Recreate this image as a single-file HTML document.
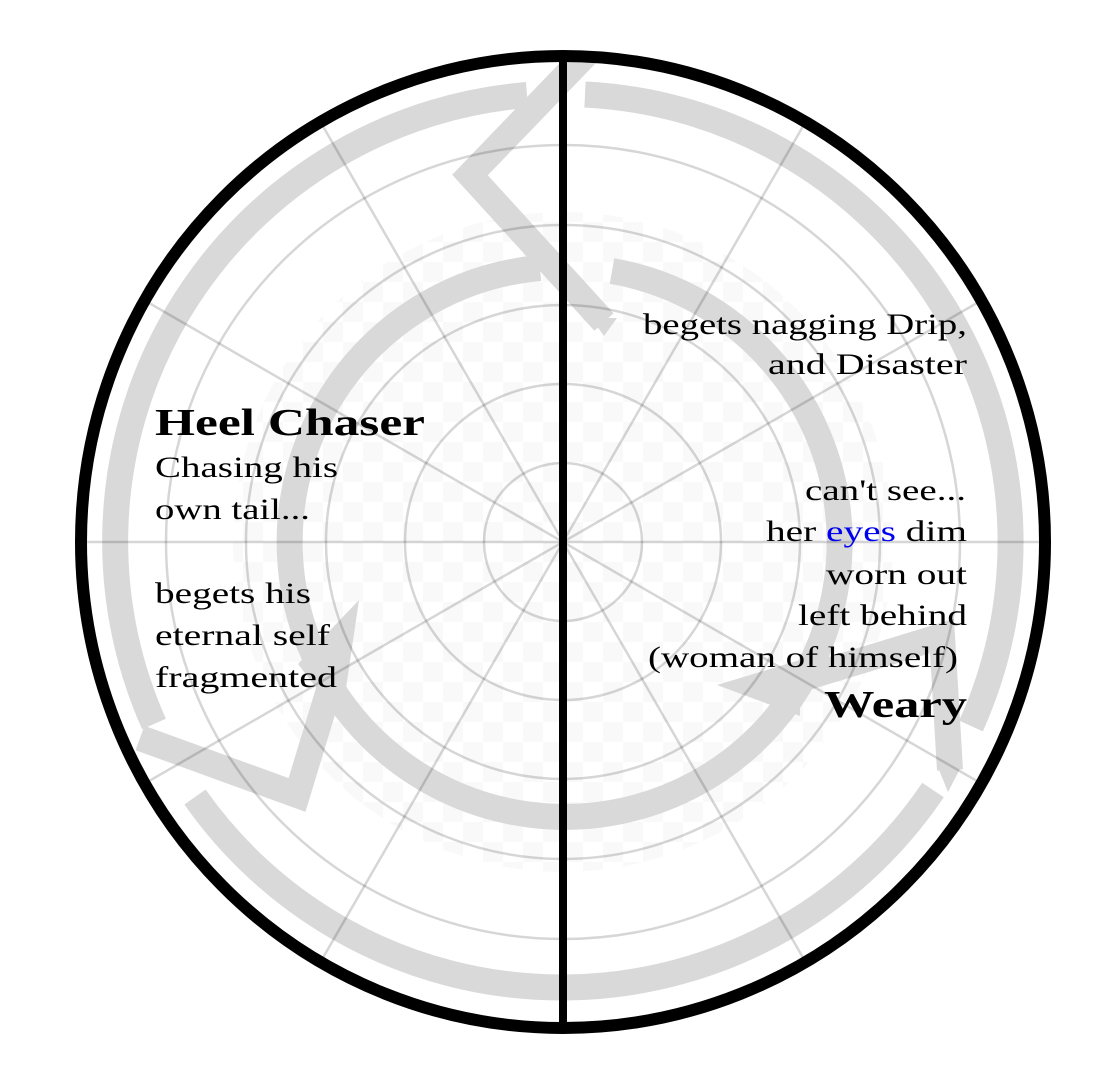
<!DOCTYPE html>
<html><head><meta charset="utf-8"><style>
html,body{margin:0;padding:0;background:#fff;}
svg{display:block;}
text{font-family:"Liberation Serif","DejaVu Serif",serif;fill:#000;}
</style></head><body>
<svg width="1110" height="1081" viewBox="0 0 1110 1081" xmlns="http://www.w3.org/2000/svg">
<defs>
<clipPath id="disk"><ellipse cx="563" cy="542" rx="478" ry="482"/></clipPath>
<pattern id="chk" width="40" height="40" patternUnits="userSpaceOnUse" x="3" y="2">
<rect x="0" y="0" width="20" height="20" fill="#f9f9f9"/><rect x="20" y="20" width="20" height="20" fill="#f9f9f9"/>
</pattern>
</defs>
<g clip-path="url(#disk)">
<circle cx="563" cy="542" r="330" fill="url(#chk)"/>
<g fill="none" stroke="#d9d9d9" stroke-width="26" stroke-linejoin="miter" stroke-miterlimit="10">
<path d="M585 94.5 A448 448 0 0 1 971 726"/>
<path d="M933 790 A448 448 0 0 1 195 797"/>
<path d="M154 724 A448 448 0 0 1 527 95"/>
<path d="M612 271 A275 275 0 1 1 540 268"/>
<polyline points="600,40 470,175 604,322"/>
<polyline points="140,738 297,795 332,680"/>
<polyline points="765,690 942,636 950,770"/>
</g>
<g fill="#d9d9d9">
<polygon points="591,318 617,318 604,336"/>
<polygon points="298,664 359,600 345,695 318,690"/>
<polygon points="717,685 800,660 800,716"/>
<polygon points="937,765 962,765 948,792"/>
</g>
<g stroke="rgba(0,0,0,0.16)" stroke-width="2.5" fill="none">
<circle cx="563" cy="542" r="79"/>
<circle cx="563" cy="542" r="158"/>
<circle cx="563" cy="542" r="237"/>
<circle cx="563" cy="542" r="317"/>
<circle cx="563" cy="542" r="397"/>
<line x1="63" y1="542" x2="1063" y2="542"/>
<line x1="130" y1="292" x2="996" y2="792"/>
<line x1="313" y1="109" x2="813" y2="975"/>
<line x1="813" y1="109" x2="313" y2="975"/>
<line x1="996" y1="292" x2="130" y2="792"/>
</g>
</g>
<ellipse cx="563" cy="542" rx="482" ry="486" fill="none" stroke="#000" stroke-width="12"/>
<line x1="563" y1="56" x2="563" y2="1028" stroke="#000" stroke-width="8"/>

<text x="155" y="435" font-size="38" font-weight="bold" textLength="270" lengthAdjust="spacingAndGlyphs">Heel Chaser</text>
<g font-size="30">
<text x="155" y="477" textLength="183" lengthAdjust="spacingAndGlyphs">Chasing his</text>
<text x="155" y="519" textLength="155" lengthAdjust="spacingAndGlyphs">own tail...</text>
<text x="155" y="603" textLength="156" lengthAdjust="spacingAndGlyphs">begets his</text>
<text x="155" y="645" textLength="175" lengthAdjust="spacingAndGlyphs">eternal self</text>
<text x="155" y="687" textLength="182" lengthAdjust="spacingAndGlyphs">fragmented</text>
<text x="643" y="334" textLength="324" lengthAdjust="spacingAndGlyphs">begets nagging Drip,</text>
<text x="768" y="374" textLength="199" lengthAdjust="spacingAndGlyphs">and Disaster</text>
<text x="805" y="500" textLength="161" lengthAdjust="spacingAndGlyphs">can't see...</text>
<text x="766" y="541" textLength="201" lengthAdjust="spacingAndGlyphs">her <tspan fill="#0000ee">eyes</tspan> dim</text>
<text x="826" y="584" textLength="141" lengthAdjust="spacingAndGlyphs">worn out</text>
<text x="798" y="625" textLength="169" lengthAdjust="spacingAndGlyphs">left behind</text>
<text x="648" y="667" textLength="310" lengthAdjust="spacingAndGlyphs">(woman of himself)</text>
</g>
<text x="824" y="717" font-size="38" font-weight="bold" textLength="143" lengthAdjust="spacingAndGlyphs">Weary</text>
</svg>
</body></html>
